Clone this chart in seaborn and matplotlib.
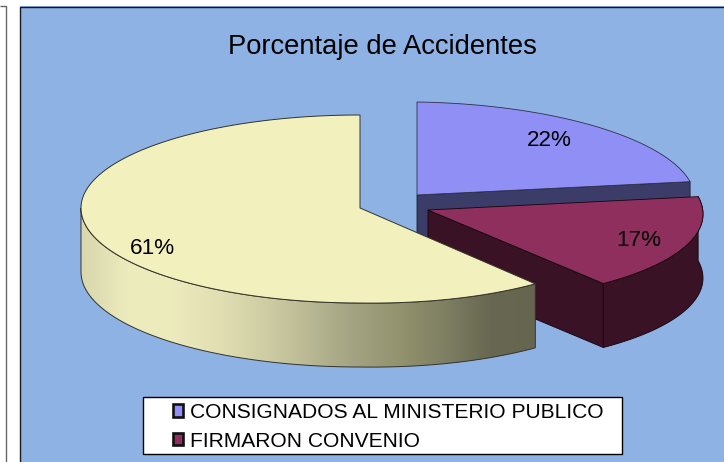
import numpy as np
import seaborn as sns
from matplotlib import pyplot as plt
from matplotlib.patches import Patch, Polygon, Rectangle

categorias = ["CONSIGNADOS AL MINISTERIO PUBLICO", "FIRMARON CONVENIO", ""]
valores = [22, 17, 61]
titulo = "Porcentaje de Accidentes"

color_top = ["#8f8ff5", "#8f2f5e", "#f2f1be"]
color_side = ["#3c3c68", "#3a1225"]
centros = [(417, 195), (428, 210), (360, 208)]
radios_x = [278, 275, 275]
radios_frente = [95, 92, 95]
pos_labels = [(549, 139), (639, 239), (152, 246)]
RX_IZQ, RY_ATRAS, DEPTH = 279, 93, 64
INCLINA = 0.015
LINEA = "#1c1c28"

sns.set_theme(style="white")
plt.rcParams['font.family'] = ['Liberation Sans', 'DejaVu Sans']


def arco(i, a0, a1, dy=0):
    # angulos en grados, desde arriba y en sentido horario
    t = np.radians(np.linspace(a0, a1, 160))
    s, co = np.sin(t), np.cos(t)
    x = np.where(s >= 0, radios_x[i], RX_IZQ) * s
    y = -np.where(co >= 0, RY_ATRAS, radios_frente[i]) * co + INCLINA * np.maximum(x, 0)
    return np.column_stack([centros[i][0] + x, centros[i][1] + y + dy])


fig = plt.figure(figsize=(7.24, 4.62), dpi=100, facecolor="white")
ax = fig.add_axes([0, 0, 1, 1])
ax.set_xlim(0, 724)
ax.set_ylim(462, 0)
ax.axis("off")

# marco del grafico vecino y panel azul, sin borde abajo ni a la derecha
ax.plot([0, 6, 6], [6, 6, 462], color="#666666", lw=1.0, solid_capstyle="butt")
ax.add_patch(Rectangle((20, 6), 710, 460, facecolor="#8db2e3", edgecolor="none"))
ax.plot([20, 20, 724], [462, 6.5, 6.5], color="#1a1a1a", lw=1.0, solid_joinstyle="miter")

limites = np.concatenate([[0], np.cumsum(valores)]) * 3.6

# azul
c = centros[0]
fin = arco(0, limites[1], limites[1])[0]
ax.add_patch(Polygon([c, fin, (fin[0], fin[1] + DEPTH), (c[0], c[1] + DEPTH)],
                     facecolor=color_side[0], edgecolor=LINEA, lw=0.6, zorder=2))
ax.add_patch(Polygon(np.vstack([[c], arco(0, limites[0], limites[1])]), facecolor=color_top[0],
                     edgecolor="#30304a", lw=0.6, zorder=3))

# granate
c = centros[1]
a0, a1 = limites[1], limites[2]
fin = arco(1, a1, a1)[0]
ax.add_patch(Polygon([c, fin, (fin[0], fin[1] + DEPTH), (c[0], c[1] + DEPTH)],
                     facecolor=color_side[1], edgecolor="#14060c", lw=0.6, zorder=4))
ax.add_patch(Polygon(np.vstack([arco(1, a0, a1), arco(1, a1, a0, DEPTH)]),
                     facecolor=color_side[1], edgecolor="#14060c", lw=0.6, zorder=4))
ax.add_patch(Polygon(np.vstack([[c], arco(1, a0, a1)]), facecolor=color_top[1],
                     edgecolor="#14060c", lw=0.6, zorder=5))

# amarillo, con el lateral en degradado
c = centros[2]
a0, a1 = limites[2], limites[3]
lado = Polygon(np.vstack([arco(2, a0, 270), arco(2, 270, a0, DEPTH)]), facecolor="none",
               edgecolor="#33332a", lw=0.7, zorder=7)
ax.add_patch(lado)
degradado = sns.blend_palette(["#d8d7ae", "#ecebbc", "#edebbd", "#e2e0b3", "#cfcea4", "#bab994",
                               "#a3a282", "#93936f", "#7f7f63", "#686852", "#666650"], as_cmap=True)
img = ax.imshow(np.linspace(0, 1, 256).reshape(1, -1), cmap=degradado, aspect="auto",
                extent=(c[0] - RX_IZQ, arco(2, a0, a0)[0][0], 380, 200), zorder=6)
img.set_clip_path(lado)
ax.set_xlim(0, 724)
ax.set_ylim(462, 0)
ax.add_patch(Polygon(np.vstack([[c], arco(2, a0, a1)]), facecolor=color_top[2],
                     edgecolor="#33332a", lw=0.7, zorder=8))

for v, (x, y) in zip(valores, pos_labels):
    ax.text(x, y + 2, f"{v}%", ha="center", va="center", fontsize=16.2, color="black", zorder=10)

ax.text(382, 47, titulo, ha="center", va="center", fontsize=19.75, color="black", zorder=10)

# caja de la leyenda aparte, es mas ancha que su contenido
ax.add_patch(Rectangle((142.5, 396.5), 479, 57, facecolor="white", edgecolor="black", lw=1.0, zorder=11))
handles = [Patch(facecolor=color_top[i], edgecolor="#111111", lw=1.9, label=categorias[i])
           for i in range(2)]
leg = ax.legend(handles=handles, loc="upper left", bbox_to_anchor=(172.5, 403),
                bbox_transform=ax.transData, fontsize=15.15, frameon=False,
                labelcolor="black", handlelength=0.52, handleheight=0.52,
                handletextpad=0.3, labelspacing=0.455, borderpad=0, borderaxespad=0)
leg.set_zorder(12)

fig.savefig("out.png", dpi=100)
